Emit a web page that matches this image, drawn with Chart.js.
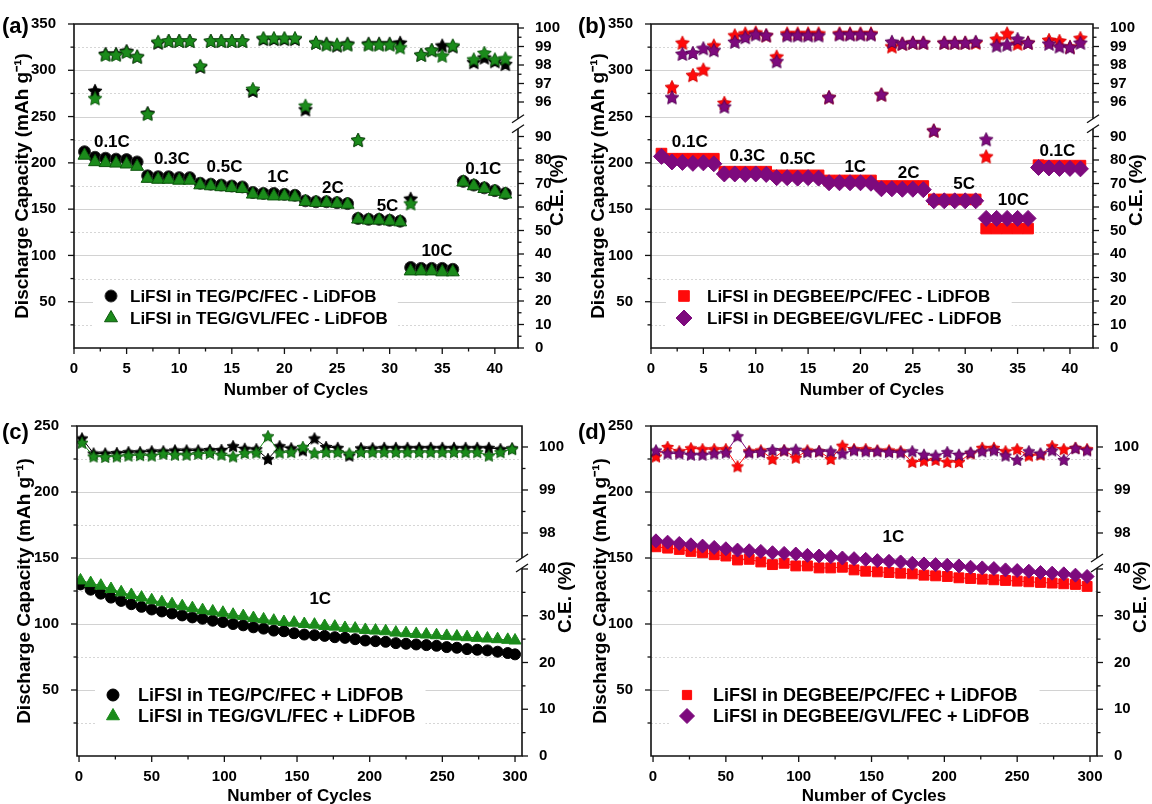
<!DOCTYPE html>
<html>
<head>
<meta charset="utf-8">
<title>Rate capability and cycling of glyme-based electrolytes</title>
<script src="https://cdn.jsdelivr.net/npm/chart.js@4.4.1/dist/chart.umd.min.js"></script>
<style>
  html, body { margin: 0; padding: 0; background: #fff; }
  #wrap { position: relative; width: 1152px; height: 804px; overflow: hidden; background: #fff; }
  #wrap canvas { position: absolute; }
</style>
</head>
<body>
<div id="wrap">
  <canvas id="panelA" width="576" height="402" style="left:0;top:0"></canvas>
  <canvas id="panelB" width="576" height="402" style="left:576px;top:0"></canvas>
  <canvas id="panelC" width="576" height="402" style="left:0;top:402px"></canvas>
  <canvas id="panelD" width="576" height="402" style="left:576px;top:402px"></canvas>
</div>
<script>
// ---------------------------------------------------------------
// Data
// ---------------------------------------------------------------

// Rate test (panels a, b): cycle numbers
const rateCycles = [1, 2, 3, 4, 5, 6, 7, 8, 9, 10, 11, 12, 13, 14, 15, 16, 17, 18, 19, 20,
  21, 22, 23, 24, 25, 26, 27, 28, 29, 30, 31, 32, 33, 34, 35, 36, 37, 38, 39, 40, 41];

// (a) discharge capacity, mAh/g
const capTegPc = [212, 206, 205, 204, 203.5, 201, 186, 185, 185, 184, 184, 178, 177, 176, 175, 174,
  168, 167, 167, 166, 165, 159, 158, 158, 157, 156, 140, 139, 139, 138, 137, 87, 86, 86, 86, 85,
  180, 176, 173, 170, 167];
const capTegGvl = [208, 201, 200, 199.5, 198.5, 196, 183, 182, 182, 181, 181, 176, 175, 174, 173, 172,
  166, 165, 164, 164, 163, 158, 157, 157, 156, 155, 139, 138, 138, 137, 136, 83, 83, 83, 82, 82,
  179, 175, 172, 169, 166];
// (a) coulombic efficiency, %
const ceTegPc = [null, 96.6, 98.6, 98.6, 98.75, 98.45, 95.4, 99.2, 99.3, 99.3, 99.3, 97.9, 99.3, 99.3,
  99.3, 99.3, 96.6, 99.4, 99.4, 99.4, 99.4, 95.6, 99.2, 99.15, 99.05, 99.15, 88.5, 99.15, 99.15, 99.15,
  99.2, 63.5, 98.55, 98.8, 99.05, 99.0, null, 98.15, 98.4, 98.2, 98.05];
const ceTegGvl = [null, 96.2, 98.55, 98.55, 98.7, 98.45, 95.35, 99.25, 99.3, 99.3, 99.3, 97.95, 99.3, 99.3,
  99.3, 99.3, 96.7, 99.45, 99.45, 99.45, 99.45, 95.8, 99.2, 99.1, 99.1, 99.1, 88.5, 99.1, 99.1, 99.1,
  98.95, 61.5, 98.55, 98.8, 98.5, 99.05, null, 98.3, 98.65, 98.3, 98.35];

// (b) discharge capacity, mAh/g
const capDegPc = [210, 204.5, 204.5, 204.5, 204.5, 204.5, 190.5, 190.5, 190.5, 190.5, 190.5,
  186.5, 186.5, 186.5, 186.5, 186.5, 181, 181, 181, 181, 181, 175, 175, 175, 175, 175,
  160.5, 160.5, 160.5, 160.5, 160.5, 129, 129, 129, 129, 129, 197.5, 197, 197, 197, 197];
const capDegGvl = [207, 201, 200.5, 199.5, 200, 199, 188, 188, 187.5, 188, 187.5, 184, 184, 183.5, 184, 183.5,
  178.5, 178.5, 178.5, 178.5, 178, 172, 172, 171.5, 171.5, 171, 159, 159, 159, 159, 159,
  140, 140, 140, 140, 140, 195, 194.5, 194, 194, 193.5];
// (b) coulombic efficiency, %
const ceDegPc = [null, 96.8, 99.2, 97.45, 97.75, 99.05, 95.95, 99.6, 99.7, 99.75, 99.6, 98.45, 99.7, 99.7,
  99.7, 99.7, 96.25, 99.7, 99.7, 99.7, 99.7, 96.4, 99.0, 99.15, 99.2, 99.2, 92.5, 99.2, 99.2, 99.2,
  99.2, 81.5, 99.4, 99.7, 99.15, 99.2, null, 99.35, 99.3, 98.98, 99.45];
const ceDegGvl = [null, 96.25, 98.6, 98.65, 98.9, 98.8, 95.75, 99.25, 99.5, 99.65, 99.6, 98.2, 99.6, 99.6,
  99.6, 99.6, 96.25, 99.65, 99.65, 99.65, 99.65, 96.4, 99.25, 99.15, 99.2, 99.2, 92.5, 99.2, 99.2, 99.2,
  99.25, 88.8, 99.05, 99.1, 99.4, 99.2, null, 99.15, 99.0, 98.95, 99.2];

// Long cycling at 1C (panels c, d)
const longCapCyclesTeg = [1, 8, 15, 22, 29, 36, 43, 50, 57, 64, 71, 78, 85, 92, 99, 106, 113, 120, 127, 134,
  141, 148, 155, 162, 169, 176, 183, 190, 197, 204, 211, 218, 225, 232, 239, 246, 253, 260, 267, 274,
  281, 288, 295, 300];
const longCapTegPc = [130, 126, 123, 120, 117.5, 115, 113, 111, 109.5, 108, 106.5, 105, 104, 102.5, 101.5,
  100, 99, 97.5, 96.5, 95, 94.5, 93, 92, 91.5, 91, 90, 89.5, 88.5, 87.5, 87, 86.5, 85.5, 85, 84.5, 84,
  83.5, 82.5, 82, 81, 80.5, 80, 79, 78, 77];
const longCapTegGvl = [133, 131, 129, 126.5, 124, 122, 120, 118, 116.5, 115, 113.5, 112, 110.5, 109.5, 108.5,
  107, 106, 104.5, 103.5, 102.5, 101.5, 101, 100, 99.5, 98.5, 98, 97, 96.5, 95.5, 95, 94.5, 93.5, 93,
  92.5, 92, 91.5, 91, 90.5, 90, 89.5, 89, 88.5, 88, 87.5];

const longCycles = [2, 10, 18, 26, 34, 42, 50, 58, 66, 74, 82, 90, 98, 106, 114, 122, 130, 138, 146, 154,
  162, 170, 178, 186, 194, 202, 210, 218, 226, 234, 242, 250, 258, 266, 274, 282, 290, 298];
const longCeTegPc = [100.2, 99.85, 99.85, 99.86, 99.88, 99.88, 99.9, 99.9, 99.92, 99.92, 99.92, 99.93, 99.93,
  100.02, 99.96, 99.95, 99.72, 100.02, 99.97, 99.92, 100.2, 100.0, 99.98, 99.8, 99.97, 99.97, 99.98, 99.98,
  99.98, 99.98, 99.98, 99.98, 99.98, 99.98, 99.98, 99.98, 99.95, 99.97];
const longCeTegGvl = [100.1, 99.78, 99.77, 99.78, 99.8, 99.81, 99.8, 99.84, 99.82, 99.82, 99.84, 99.86, 99.82,
  99.78, 99.86, 99.87, 100.25, 99.87, 99.88, 100.0, 99.86, 99.88, 99.88, 99.85, 99.88, 99.88, 99.88, 99.88,
  99.88, 99.88, 99.88, 99.88, 99.88, 99.88, 99.88, 99.8, 99.88, 99.95];

const longCapDegPc = [158.5, 157.5, 156.5, 155, 154, 152.5, 151.5, 148.5, 149, 147, 145, 146, 144, 144, 142.5,
  142.5, 143, 141, 140, 139.5, 139, 138.5, 138, 137, 136.5, 136, 135, 134.5, 134, 133.5, 133, 132.5, 132,
  131.5, 131, 130.5, 130, 128.5];
const longCapDegGvl = [163, 162, 161, 160, 159, 158, 157, 156, 155.5, 155, 154, 153.5, 153, 152, 151.5, 151,
  150, 149.5, 149, 148, 147.5, 147, 146, 145.5, 145, 144.5, 144, 143, 142.5, 142, 141, 140.5, 140, 139,
  138.5, 138, 137, 136];
const longCeDegPc = [99.78, 100.0, 99.9, 99.97, 99.95, 99.95, 99.95, 99.55, 99.9, 99.92, 99.72, 99.92, 99.75,
  99.92, 99.9, 99.72, 100.03, 99.95, 99.95, 99.92, 99.92, 99.9, 99.65, 99.68, 99.7, 99.65, 99.65, 99.85,
  99.98, 99.98, 99.9, 99.95, 99.8, 99.82, 100.02, 99.95, 99.98, 99.95];
const longCeDegGvl = [99.92, 99.85, 99.85, 99.82, 99.82, 99.85, 99.87, 100.25, 99.87, 99.88, 99.93, 99.92, 99.94,
  99.88, 99.9, 99.9, 99.85, 99.92, 99.9, 99.9, 99.88, 99.87, 99.9, 99.82, 99.8, 99.88, 99.82, 99.87, 99.9,
  99.92, 99.8, 99.7, 99.9, 99.85, 99.92, 99.7, 99.97, 99.92];

// Tick values
const rateXTicks = [0, 5, 10, 15, 20, 25, 30, 35, 40];
const rateXMinor = [2.5, 7.5, 12.5, 17.5, 22.5, 27.5, 32.5, 37.5];
const rateCapTicks = [50, 100, 150, 200, 250, 300, 350];
const rateCapMinor = [25, 75, 125, 175, 225, 275, 325];
const rateCeTicks = [0, 10, 20, 30, 40, 50, 60, 70, 80, 90, 96, 97, 98, 99, 100];
const rateCeMinor = [5, 15, 25, 35, 45, 55, 65, 75, 85, 96.5, 97.5, 98.5, 99.5];
const longXTicks = [0, 50, 100, 150, 200, 250, 300];
const longXMinor = [25, 75, 125, 175, 225, 275];
const longCapTicks = [50, 100, 150, 200, 250];
const longCapMinor = [25, 75, 125, 175, 225];
const longCeTicks = [0, 10, 20, 30, 40, 98, 99, 100];
const longCeMinor = [5, 15, 25, 35, 98.5, 99.5];

// Labels
const rateNamesA = ['0.1C', '0.3C', '0.5C', '1C', '2C', '5C', '10C', '0.1C'];
const rateNamesB = ['0.1C', '0.3C', '0.5C', '1C', '2C', '5C', '10C', '0.1C'];
const seriesA = ['LiFSI in TEG/PC/FEC - LiDFOB', 'LiFSI in TEG/GVL/FEC - LiDFOB'];
const seriesB = ['LiFSI in DEGBEE/PC/FEC - LiDFOB', 'LiFSI in DEGBEE/GVL/FEC - LiDFOB'];
const seriesC = ['LiFSI in TEG/PC/FEC + LiDFOB', 'LiFSI in TEG/GVL/FEC + LiDFOB'];
const seriesD = ['LiFSI in DEGBEE/PC/FEC + LiDFOB', 'LiFSI in DEGBEE/GVL/FEC + LiDFOB'];

// ---------------------------------------------------------------
// Styling helpers
// ---------------------------------------------------------------
const FONT = "'Liberation Sans', Arial, Helvetica, sans-serif";
const GREEN = '#1b8b1b';
const GREEN_EDGE = '#0c560c';
const RED = '#ff0a0a';
const PURPLE = '#7d0a7d';

function starImage(size, fill, edge) {
  const c = document.createElement('canvas');
  c.width = size; c.height = size;
  const g = c.getContext('2d');
  const R = size / 2 - 0.7, r = R * 0.5, cx = size / 2, cy = size / 2 + R * 0.08;
  g.beginPath();
  for (let i = 0; i < 10; i++) {
    const rad = i % 2 ? r : R;
    const ang = -Math.PI / 2 + i * Math.PI / 5;
    g.lineTo(cx + rad * Math.cos(ang), cy + rad * Math.sin(ang));
  }
  g.closePath();
  g.fillStyle = fill; g.fill();
  g.lineWidth = 0.9; g.strokeStyle = edge; g.stroke();
  return c;
}

function pts(xs, ys) {
  return xs.map((x, i) => ({ x: x, y: ys[i] })).filter(p => p.y !== null && p.y !== undefined);
}

// ---------------------------------------------------------------
// Broken C.E. axis: piecewise linear value -> fraction of axis height
// ---------------------------------------------------------------
const brokenMaps = {};
class BrokenScale extends Chart.LinearScale {
  static id = 'broken';
  static defaults = {};
  _map() { return brokenMaps[this.chart.canvas.id]; }
  buildTicks() { return this._map().ticks.map(v => ({ value: v })); }
  _toDecimal(v) {
    const segs = this._map().segments;
    for (const s of segs) {
      if (v >= s.v0 && v <= s.v1) return s.d0 + (v - s.v0) * (s.d1 - s.d0) / (s.v1 - s.v0);
    }
    for (let i = 0; i < segs.length - 1; i++) {
      const a = segs[i], b = segs[i + 1];
      if (v > a.v1 && v < b.v0) return a.d1 + (v - a.v1) * (b.d0 - a.d1) / (b.v0 - a.v1);
    }
    const f = segs[0], l = segs[segs.length - 1];
    if (v < f.v0) return f.d0 + (v - f.v0) * (f.d1 - f.d0) / (f.v1 - f.v0);
    return l.d1 + (v - l.v1) * (l.d1 - l.d0) / (l.v1 - l.v0);
  }
  getPixelForValue(value) {
    if (value === null || value === undefined || isNaN(value)) return NaN;
    return this.getPixelForDecimal(this._toDecimal(value));
  }
  getValueForPixel(pixel) {
    const d = this.getDecimalForPixel(pixel);
    for (const s of this._map().segments) {
      if (d >= s.d0 && d <= s.d1) return s.v0 + (d - s.d0) * (s.v1 - s.v0) / (s.d1 - s.d0);
    }
    return NaN;
  }
}
Chart.register(BrokenScale);

// ---------------------------------------------------------------
// Decorations: grid, frame with axis break, minor ticks, notes, legend
// ---------------------------------------------------------------
function makeDecor(cfg) {
  return {
    id: 'decor',
    beforeDatasetsDraw(chart) {
      const ctx = chart.ctx, a = chart.chartArea, y = chart.scales.y;
      ctx.save();
      ctx.lineWidth = 1;
      ctx.strokeStyle = '#d2d2d2';
      cfg.gridSolid.forEach(v => {
        const py = Math.round(y.getPixelForValue(v)) + 0.5;
        ctx.beginPath(); ctx.moveTo(a.left, py); ctx.lineTo(a.right, py); ctx.stroke();
      });
      ctx.setLineDash([2, 2]);
      ctx.strokeStyle = '#d6d6d6';
      cfg.gridDotted.forEach(v => {
        const py = Math.round(y.getPixelForValue(v)) + 0.5;
        ctx.beginPath(); ctx.moveTo(a.left, py); ctx.lineTo(a.right, py); ctx.stroke();
      });
      ctx.setLineDash([]);
      // legend backdrop
      const L = cfg.legend;
      ctx.font = 'bold ' + L.size + 'px ' + FONT;
      const tw = Math.max(...L.items.map(t => ctx.measureText(t).width));
      ctx.fillStyle = '#fff';
      ctx.fillRect(L.markerX - 18, L.rows[0] - 14, L.textX - L.markerX + 18 + tw + 10, L.rows[1] - L.rows[0] + 28);
      ctx.restore();
    },
    afterDatasetsDraw(chart) {
      const ctx = chart.ctx, x = chart.scales.x, y = chart.scales.y;
      ctx.save();
      // rate / condition notes
      ctx.fillStyle = '#000';
      ctx.font = 'bold ' + cfg.noteSize + 'px ' + FONT;
      ctx.textAlign = 'center';
      ctx.textBaseline = 'middle';
      cfg.notes.forEach(n => {
        ctx.fillText(n.text, x.getPixelForValue(n.x), y.getPixelForValue(n.y));
      });
      // legend entries
      const L = cfg.legend;
      ctx.font = 'bold ' + L.size + 'px ' + FONT;
      ctx.textAlign = 'left';
      L.items.forEach((t, i) => {
        const ds = chart.data.datasets[L.dsIndex[i]];
        ctx.fillStyle = ds.backgroundColor;
        ctx.strokeStyle = ds.pointBorderColor || ds.borderColor;
        ctx.lineWidth = 1;
        Chart.helpers.drawPoint(ctx, { pointStyle: ds.pointStyle, radius: L.radius[i], rotation: 0, borderWidth: 1 },
          L.markerX, L.rows[i]);
        ctx.fillStyle = '#000';
        ctx.fillText(t, L.textX, L.rows[i] + 1);
      });
      ctx.restore();
    },
    afterDraw(chart) {
      const ctx = chart.ctx, a = chart.chartArea;
      const x = chart.scales.x, y = chart.scales.y, y2 = chart.scales.y2;
      ctx.save();
      ctx.strokeStyle = '#111';
      // tick marks
      ctx.lineWidth = 1.3;
      const tick = (x1, y1, x2, y2_) => { ctx.beginPath(); ctx.moveTo(x1, y1); ctx.lineTo(x2, y2_); ctx.stroke(); };
      cfg.xTicks.forEach(v => { const p = x.getPixelForValue(v); tick(p, a.bottom, p, a.bottom + 6); });
      cfg.xMinor.forEach(v => { const p = x.getPixelForValue(v); tick(p, a.bottom, p, a.bottom + 3.5); });
      cfg.capTicks.forEach(v => { const p = y.getPixelForValue(v); tick(a.left, p, a.left - 6, p); });
      cfg.capMinor.forEach(v => { const p = y.getPixelForValue(v); tick(a.left, p, a.left - 3.5, p); });
      cfg.ceTicks.forEach(v => { const p = y2.getPixelForValue(v); tick(a.right, p, a.right + 6, p); });
      cfg.ceMinor.forEach(v => { const p = y2.getPixelForValue(v); tick(a.right, p, a.right + 3.5, p); });
      // frame with a break in the right axis
      ctx.lineWidth = 1.6;
      const yb = y2.getPixelForDecimal(cfg.breakDec);
      ctx.beginPath();
      ctx.moveTo(a.right, yb - 5); ctx.lineTo(a.right, a.top); ctx.lineTo(a.left, a.top);
      ctx.lineTo(a.left, a.bottom); ctx.lineTo(a.right, a.bottom); ctx.lineTo(a.right, yb + 5);
      ctx.stroke();
      ctx.lineWidth = 1.3;
      tick(a.right - 6, yb - 1, a.right + 6, yb - 9);
      tick(a.right - 6, yb + 9, a.right + 6, yb + 1);
      // right axis title
      ctx.fillStyle = '#000';
      ctx.font = 'bold ' + cfg.titleSize + 'px ' + FONT;
      ctx.textAlign = 'center';
      ctx.textBaseline = 'middle';
      ctx.translate(cfg.ceTitle.x, cfg.ceTitle.y);
      ctx.rotate(-Math.PI / 2);
      ctx.fillText('C.E. (%)', 0, 0);
      ctx.restore();
      // panel tag
      ctx.save();
      ctx.fillStyle = '#000';
      ctx.font = 'bold ' + cfg.tagSize + 'px ' + FONT;
      ctx.textAlign = 'left';
      ctx.textBaseline = 'middle';
      ctx.fillText(cfg.tag, cfg.tagPos.x, cfg.tagPos.y);
      ctx.restore();
    }
  };
}

// ---------------------------------------------------------------
// Panel factory
// ---------------------------------------------------------------
const W = 576, H = 402;
function makePanel(id, cfg) {
  brokenMaps[id] = { ticks: cfg.ceTicks, segments: cfg.segments };
  const A = cfg.area;
  const tickFont = { family: FONT, size: 15, weight: 'bold' };
  return new Chart(document.getElementById(id), {
    type: 'scatter',
    data: { datasets: cfg.datasets },
    options: {
      responsive: false,
      animation: false,
      devicePixelRatio: 1,
      events: [],
      layout: { autoPadding: false, padding: { left: 0, right: 0, top: A.t, bottom: 0 } },
      plugins: { legend: { display: false }, tooltip: { enabled: false } },
      scales: {
        x: {
          type: 'linear', position: 'bottom', min: cfg.xRange[0], max: cfg.xRange[1],
          afterBuildTicks: s => { s.ticks = cfg.xTicks.map(v => ({ value: v })); },
          afterFit: s => { s.height = H - A.b; },
          grid: { display: false }, border: { display: false },
          ticks: { autoSkip: false, maxRotation: 0, padding: 4, color: '#000', font: tickFont, callback: v => String(v) },
          title: { display: true, text: 'Number of Cycles', color: '#000',
            font: { family: FONT, size: 17, weight: 'bold' }, padding: { top: 0, bottom: cfg.xTitlePad } }
        },
        y: {
          type: 'linear', position: 'left', min: 0, max: cfg.capMax,
          afterBuildTicks: s => { s.ticks = cfg.capTicks.map(v => ({ value: v })); },
          afterFit: s => { s.width = A.l; },
          grid: { display: false }, border: { display: false },
          ticks: { autoSkip: false, padding: 10, color: '#000', font: tickFont, callback: v => String(v) },
          title: { display: true, text: 'Discharge Capacity (mAh g\u207B\u00B9)', color: '#000',
            font: { family: FONT, size: cfg.titleSize, weight: 'bold' }, padding: { top: cfg.yTitlePad, bottom: 0 } }
        },
        y2: {
          type: 'broken', position: 'right', min: 0, max: 101,
          afterFit: s => { s.width = W - A.r; },
          grid: { display: false }, border: { display: false },
          ticks: { autoSkip: false, padding: 9, color: '#000', font: tickFont, callback: v => String(v) },
          title: { display: false }
        }
      }
    },
    plugins: [makeDecor(cfg)]
  });
}

// Star markers for C.E.
const starBlackL = starImage(16, '#000', '#000');
const starGreenL = starImage(16, GREEN, GREEN_EDGE);
const starRedL = starImage(16, RED, '#d40000');
const starPurpleL = starImage(16, PURPLE, '#550055');
const starBlackS = starImage(14, '#000', '#000');
const starGreenS = starImage(14, GREEN, GREEN_EDGE);
const starRedS = starImage(14, RED, '#d40000');
const starPurpleS = starImage(14, PURPLE, '#550055');

// Axis break segments (value range -> fraction of plot height)
const rateSegments = [
  { v0: 0, v1: 93, d0: 0, d1: 93 * 0.007253 },
  { v0: 95, v1: 101, d0: 0.75926 - 0.0571, d1: 0.75926 + 5 * 0.0571 }
];
const longSegments = [
  { v0: 0, v1: 41.5, d0: 0, d1: 41.5 * 0.014167 },
  { v0: 97.3, v1: 101, d0: 0.6758 - 0.7 * 0.1303, d1: 0.6758 + 3 * 0.1303 }
];

function markerSet(opts) {
  return Object.assign({ showLine: false, pointBorderWidth: 1, borderWidth: 1 }, opts);
}

// ---------------------------------------------------------------
// (a) TEG-based electrolytes, rate test
// ---------------------------------------------------------------
makePanel('panelA', {
  area: { l: 74, r: 518, t: 24, b: 348 },
  xRange: [0, 42.2], capMax: 350,
  xTicks: rateXTicks, xMinor: rateXMinor, capTicks: rateCapTicks, capMinor: rateCapMinor,
  ceTicks: rateCeTicks, ceMinor: rateCeMinor, segments: rateSegments, breakDec: 0.692,
  gridSolid: [50, 100, 150, 200, 250, 300], gridDotted: [25, 75, 125, 175, 225, 275, 325],
  titleSize: 19, yTitlePad: 11.6, xTitlePad: 1.5,
  ceTitle: { x: 558, y: 190 }, tag: '(a)', tagSize: 22, tagPos: { x: 2, y: 27 },
  noteSize: 17,
  notes: [
    { text: rateNamesA[0], x: 3.6, y: 222 }, { text: rateNamesA[1], x: 9.3, y: 204 },
    { text: rateNamesA[2], x: 14.3, y: 195 }, { text: rateNamesA[3], x: 19.4, y: 184 },
    { text: rateNamesA[4], x: 24.6, y: 173 }, { text: rateNamesA[5], x: 29.8, y: 153 },
    { text: rateNamesA[6], x: 34.5, y: 104 }, { text: rateNamesA[7], x: 38.9, y: 193 }
  ],
  legend: { items: seriesA, dsIndex: [1, 0], radius: [6, 7.5], markerX: 111, textX: 130, rows: [296, 318], size: 17 },
  datasets: [
    markerSet({ data: pts(rateCycles, capTegGvl), pointStyle: 'triangle', pointRadius: 7.5,
      backgroundColor: GREEN, borderColor: GREEN, pointBorderColor: GREEN_EDGE, order: 0 }),
    markerSet({ data: pts(rateCycles, capTegPc), pointStyle: 'circle', pointRadius: 6,
      backgroundColor: '#000', borderColor: '#000', pointBorderColor: '#333', order: 1 }),
    markerSet({ data: pts(rateCycles, ceTegGvl), yAxisID: 'y2', pointStyle: starGreenL, pointRadius: 7,
      backgroundColor: GREEN, borderColor: GREEN, order: 2 }),
    markerSet({ data: pts(rateCycles, ceTegPc), yAxisID: 'y2', pointStyle: starBlackL, pointRadius: 7,
      backgroundColor: '#000', borderColor: '#000', order: 3 })
  ]
});

// ---------------------------------------------------------------
// (b) DEGBEE-based electrolytes, rate test
// ---------------------------------------------------------------
makePanel('panelB', {
  area: { l: 75, r: 517, t: 24, b: 348 },
  xRange: [0, 42.2], capMax: 350,
  xTicks: rateXTicks, xMinor: rateXMinor, capTicks: rateCapTicks, capMinor: rateCapMinor,
  ceTicks: rateCeTicks, ceMinor: rateCeMinor, segments: rateSegments, breakDec: 0.692,
  gridSolid: [50, 100, 150, 200, 250, 300], gridDotted: [25, 75, 125, 175, 225, 275, 325],
  titleSize: 19, yTitlePad: 11.6, xTitlePad: 1.5,
  ceTitle: { x: 561, y: 190 }, tag: '(b)', tagSize: 22, tagPos: { x: 2, y: 27 },
  noteSize: 17,
  notes: [
    { text: rateNamesB[0], x: 3.7, y: 222 }, { text: rateNamesB[1], x: 9.2, y: 207 },
    { text: rateNamesB[2], x: 14.0, y: 204 }, { text: rateNamesB[3], x: 19.5, y: 195 },
    { text: rateNamesB[4], x: 24.6, y: 189 }, { text: rateNamesB[5], x: 29.9, y: 177 },
    { text: rateNamesB[6], x: 34.6, y: 159 }, { text: rateNamesB[7], x: 38.8, y: 213 }
  ],
  legend: { items: seriesB, dsIndex: [1, 0], radius: [7.5, 8], markerX: 108, textX: 131, rows: [296, 318], size: 17 },
  datasets: [
    markerSet({ data: pts(rateCycles, capDegGvl), pointStyle: 'rectRot', pointRadius: 8,
      backgroundColor: PURPLE, borderColor: PURPLE, order: 0 }),
    markerSet({ data: pts(rateCycles, capDegPc), pointStyle: 'rect', pointRadius: 7.5,
      backgroundColor: RED, borderColor: RED, order: 1 }),
    markerSet({ data: pts(rateCycles, ceDegGvl), yAxisID: 'y2', pointStyle: starPurpleL, pointRadius: 7,
      backgroundColor: PURPLE, borderColor: PURPLE, order: 2 }),
    markerSet({ data: pts(rateCycles, ceDegPc), yAxisID: 'y2', pointStyle: starRedL, pointRadius: 7,
      backgroundColor: RED, borderColor: RED, order: 3 })
  ]
});

// ---------------------------------------------------------------
// (c) TEG-based electrolytes with LiDFOB, 1C cycling
// ---------------------------------------------------------------
makePanel('panelC', {
  area: { l: 77, r: 522, t: 24, b: 354 },
  xRange: [-1.4, 304.8], capMax: 250,
  xTicks: longXTicks, xMinor: longXMinor, capTicks: longCapTicks, capMinor: longCapMinor,
  ceTicks: longCeTicks, ceMinor: longCeMinor, segments: longSegments, breakDec: 0.585,
  gridSolid: [50, 100, 150, 200], gridDotted: [25, 75, 125, 175, 225],
  titleSize: 19, yTitlePad: 13, xTitlePad: -2.5,
  ceTitle: { x: 566, y: 195 }, tag: '(c)', tagSize: 22, tagPos: { x: 2, y: 31 },
  noteSize: 17,
  notes: [{ text: '1C', x: 166, y: 119 }],
  legend: { items: seriesC, dsIndex: [1, 0], radius: [6, 7.5], markerX: 113, textX: 138, rows: [293, 314], size: 18 },
  datasets: [
    markerSet({ data: pts(longCapCyclesTeg, longCapTegGvl), showLine: true, pointStyle: 'triangle', pointRadius: 7,
      backgroundColor: GREEN, borderColor: GREEN, order: 0 }),
    markerSet({ data: pts(longCapCyclesTeg, longCapTegPc), showLine: true, pointStyle: 'circle', pointRadius: 5.5,
      backgroundColor: '#000', borderColor: '#000', order: 1 }),
    markerSet({ data: pts(longCycles, longCeTegGvl), yAxisID: 'y2', showLine: true, pointStyle: starGreenS, pointRadius: 7,
      backgroundColor: GREEN, borderColor: GREEN, order: 2 }),
    markerSet({ data: pts(longCycles, longCeTegPc), yAxisID: 'y2', showLine: true, pointStyle: starBlackS, pointRadius: 7,
      backgroundColor: '#000', borderColor: '#000', order: 3 })
  ]
});

// ---------------------------------------------------------------
// (d) DEGBEE-based electrolytes with LiDFOB, 1C cycling
// ---------------------------------------------------------------
makePanel('panelD', {
  area: { l: 75, r: 521, t: 24, b: 354 },
  xRange: [-1.4, 304.8], capMax: 250,
  xTicks: longXTicks, xMinor: longXMinor, capTicks: longCapTicks, capMinor: longCapMinor,
  ceTicks: longCeTicks, ceMinor: longCeMinor, segments: longSegments, breakDec: 0.585,
  gridSolid: [50, 100, 150, 200], gridDotted: [25, 75, 125, 175, 225],
  titleSize: 19, yTitlePad: 13, xTitlePad: -2.5,
  ceTitle: { x: 565, y: 195 }, tag: '(d)', tagSize: 22, tagPos: { x: 2, y: 31 },
  noteSize: 17,
  notes: [{ text: '1C', x: 165, y: 166 }],
  legend: { items: seriesD, dsIndex: [1, 0], radius: [6.5, 7.5], markerX: 111, textX: 137, rows: [293, 314], size: 18 },
  datasets: [
    markerSet({ data: pts(longCycles, longCapDegGvl), showLine: true, pointStyle: 'rectRot', pointRadius: 7,
      backgroundColor: PURPLE, borderColor: PURPLE, order: 0 }),
    markerSet({ data: pts(longCycles, longCapDegPc), showLine: true, pointStyle: 'rect', pointRadius: 7,
      backgroundColor: RED, borderColor: RED, order: 1 }),
    markerSet({ data: pts(longCycles, longCeDegGvl), yAxisID: 'y2', showLine: true, pointStyle: starPurpleS, pointRadius: 7,
      backgroundColor: PURPLE, borderColor: PURPLE, order: 2 }),
    markerSet({ data: pts(longCycles, longCeDegPc), yAxisID: 'y2', showLine: true, pointStyle: starRedS, pointRadius: 7,
      backgroundColor: RED, borderColor: RED, order: 3 })
  ]
});
</script>
</body>
</html>
